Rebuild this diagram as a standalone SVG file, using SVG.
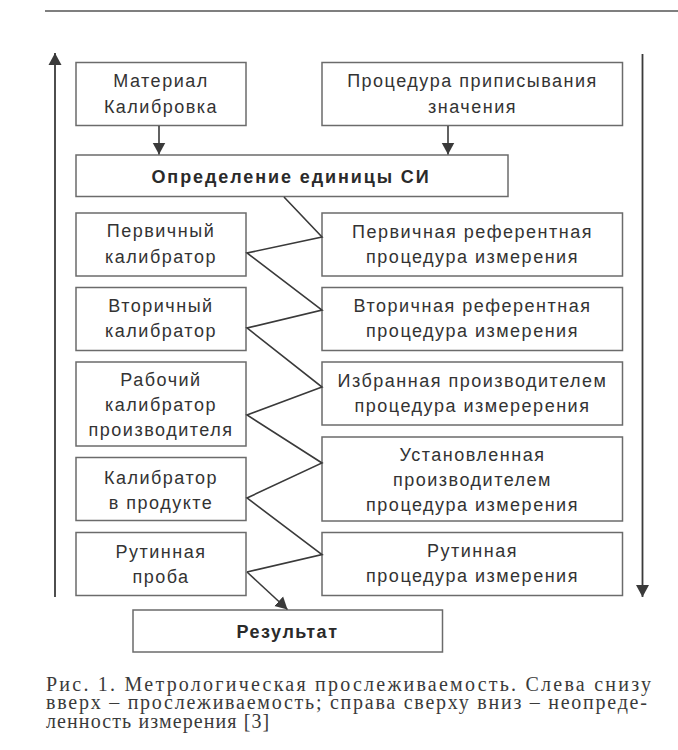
<svg xmlns="http://www.w3.org/2000/svg" width="678" height="750" viewBox="0 0 678 750">
<style>
.box{fill:#fff;stroke:#6b6b6b;stroke-width:1.5}
.t{font-family:"Liberation Sans",Arial,sans-serif;font-size:18px;fill:#333;text-anchor:middle;letter-spacing:1.5px}
.b{font-weight:bold;fill:#2a2a2a}
.ln{fill:none;stroke:#3a3a3a;stroke-width:1.6}
.ax{fill:none;stroke:#3a3a3a;stroke-width:1.8}
.cap{font-family:"Liberation Serif","Times New Roman",serif;font-size:20px;fill:#3a3a3a;letter-spacing:1.1px}
</style>
<defs>
<marker id="ah" markerWidth="14" markerHeight="14" refX="12" refY="7" orient="auto" markerUnits="userSpaceOnUse">
<path d="M0,0.5 L12,7 L0,13.5 z" fill="#3a3a3a"/>
</marker>
</defs>
<rect width="678" height="750" fill="#fff"/>
<line x1="45" y1="11" x2="678" y2="11" stroke="#555" stroke-width="1.5"/>

<g id="n_material"><rect class="box" x="76" y="62.5" width="170" height="63"/>
<text class="t" x="161" y="87">Материал</text><text class="t" x="161" y="112.5">Калибровка</text></g>
<g id="n_procedure"><rect class="box" x="322" y="62.5" width="300.5" height="63"/>
<text class="t" x="472.5" y="87">Процедура приписывания</text><text class="t" x="472.5" y="112.5">значения</text></g>
<g id="n_si"><rect class="box" x="76" y="155" width="432" height="41.5"/>
<text class="t b" x="291" y="182.5" style="letter-spacing:1.9px">Определение единицы СИ</text></g>

<g id="n_l1"><rect class="box" x="76" y="213" width="170" height="63"/>
<text class="t" x="161" y="237">Первичный</text><text class="t" x="161" y="262.5">калибратор</text></g>
<g id="n_l2"><rect class="box" x="76" y="287.5" width="170" height="63"/>
<text class="t" x="161" y="311.5">Вторичный</text><text class="t" x="161" y="337">калибратор</text></g>
<g id="n_l3"><rect class="box" x="76" y="362" width="170" height="84"/>
<text class="t" x="161" y="385.5">Рабочий</text><text class="t" x="161" y="410.5">калибратор</text><text class="t" x="161" y="435.5">производителя</text></g>
<g id="n_l4"><rect class="box" x="76" y="457.5" width="170" height="63"/>
<text class="t" x="161" y="483.5">Калибратор</text><text class="t" x="161" y="508.5">в продукте</text></g>
<g id="n_l5"><rect class="box" x="76" y="532.5" width="170" height="63"/>
<text class="t" x="161" y="558">Рутинная</text><text class="t" x="161" y="582.5">проба</text></g>

<g id="n_r1"><rect class="box" x="322" y="213" width="300.5" height="63"/>
<text class="t" x="472.5" y="237.5">Первичная референтная</text><text class="t" x="472.5" y="262.5">процедура измерения</text></g>
<g id="n_r2"><rect class="box" x="322" y="287.5" width="300.5" height="63"/>
<text class="t" x="472.5" y="312">Вторичная референтная</text><text class="t" x="472.5" y="337">процедура измерения</text></g>
<g id="n_r3"><rect class="box" x="322" y="362" width="300.5" height="63"/>
<text class="t" x="472.5" y="387">Избранная производителем</text><text class="t" x="472.5" y="412">процедура измеререния</text></g>
<g id="n_r4"><rect class="box" x="322" y="437" width="300.5" height="84"/>
<text class="t" x="472.5" y="460.5">Установленная</text><text class="t" x="472.5" y="485.5">производителем</text><text class="t" x="472.5" y="510.5">процедура измерения</text></g>
<g id="n_r5"><rect class="box" x="322" y="532.5" width="300.5" height="63"/>
<text class="t" x="472.5" y="557">Рутинная</text><text class="t" x="472.5" y="582">процедура измерения</text></g>

<g id="n_result"><rect class="box" x="133" y="610" width="309.5" height="42"/>
<text class="t b" x="287.5" y="637.5">Результат</text></g>

<g id="connectors">
<line class="ax" x1="55" y1="597" x2="55" y2="53" marker-end="url(#ah)"/>
<line class="ax" x1="642.5" y1="54" x2="642.5" y2="597" marker-end="url(#ah)"/>
<line class="ln" x1="159" y1="126" x2="159" y2="154.5" marker-end="url(#ah)"/>
<line class="ln" x1="448" y1="126" x2="448" y2="154.5" marker-end="url(#ah)"/>
<polyline class="ln" points="284,197 322,237 247,253 322,310 247,328 322,387 247,415 322,463 247,498 322,554.5 247,572"/>
<line class="ln" x1="247" y1="572" x2="287.5" y2="609.5" marker-end="url(#ah)"/>
</g>

<g id="caption">
<text class="cap" x="46" y="690.5" textLength="606" lengthAdjust="spacing">Рис. 1. Метрологическая прослеживаемость. Слева снизу</text>
<text class="cap" x="46" y="709" textLength="602" lengthAdjust="spacing">вверх – прослеживаемость; справа сверху вниз – неопреде-</text>
<text class="cap" x="46" y="727.5">ленность измерения [3]</text>
</g>
</svg>
